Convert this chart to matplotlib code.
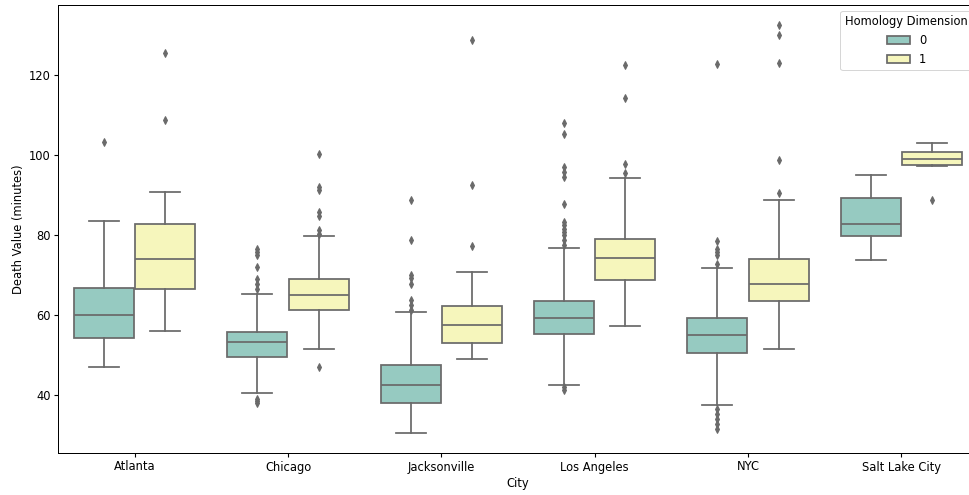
import matplotlib
matplotlib.use("Agg")
import matplotlib.pyplot as plt
from matplotlib.patches import Patch
import colorsys

cities = ["Atlanta", "Chicago", "Jacksonville", "Los Angeles", "NYC", "Salt Lake City"]
dims = ["0", "1"]

# per city: [dim0, dim1] statistics
whislo = [[47.0, 56.1], [40.5, 51.7], [30.6, 49.0], [42.6, 57.3], [37.6, 51.7], [73.8, 97.4]]
q1 =     [[54.4, 66.5], [49.6, 61.4], [38.2, 53.2], [55.3, 68.8], [50.6, 63.5], [79.8, 97.5]]
med =    [[60.0, 74.2], [53.3, 65.0], [42.7, 57.7], [59.4, 74.4], [55.0, 67.9], [82.9, 99.2]]
q3 =     [[66.8, 82.9], [55.8, 69.2], [47.5, 62.3], [63.7, 79.1], [59.3, 74.2], [89.4, 100.8]]
whishi = [[83.6, 90.8], [65.3, 79.8], [60.8, 70.8], [76.8, 94.4], [71.8, 88.8], [95.1, 103.2]]
fliers = [
    [[103.4], [108.8, 125.5]],
    [[76.7, 75.8, 75.0, 72.1, 69.2, 67.9, 66.7, 39.2, 38.6, 38.2],
     [100.4, 92.1, 91.3, 85.8, 84.8, 81.4, 80.4, 47.1]],
    [[88.8, 78.8, 70.2, 69.4, 67.9, 63.8, 62.5, 61.3],
     [128.8, 92.5, 77.3]],
    [[108.2, 105.4, 97.1, 95.8, 94.6, 87.9, 83.3, 82.5, 81.7, 80.8, 80.0, 78.8, 77.5, 42.1, 41.4],
     [122.7, 114.3, 97.9, 95.6]],
    [[122.9, 78.6, 76.7, 75.8, 75.0, 72.9, 36.7, 35.4, 34.2, 32.9, 31.6],
     [132.5, 130.0, 123.2, 98.8, 90.6]],
    [[], [88.9]],
]

base_colors = ["#8dd3c7", "#ffffb3"]


def desat(hexc, prop=0.75):
    r, g, b = matplotlib.colors.to_rgb(hexc)
    h, l, s = colorsys.rgb_to_hls(r, g, b)
    return colorsys.hls_to_rgb(h, l, s * prop)


colors = [desat(c) for c in base_colors]
lum = min(colorsys.rgb_to_hls(*c)[1] for c in colors) * 0.6
gray = (lum, lum, lum)

fs = 11.5
lw = 1.75

fig = plt.figure(figsize=(969 / 72, 495 / 72), dpi=72)
ax = fig.add_axes([58 / 969, 1 - 453 / 495, 920 / 969, 448 / 495])

offsets = [-0.2, 0.2]
width = 0.4 * 0.98
for j in range(2):
    stats = []
    for i in range(len(cities)):
        stats.append(dict(med=med[i][j], q1=q1[i][j], q3=q3[i][j],
                          whislo=whislo[i][j], whishi=whishi[i][j],
                          fliers=fliers[i][j]))
    pos = [i + offsets[j] for i in range(len(cities))]
    ax.bxp(stats, positions=pos, widths=width, patch_artist=True,
           manage_ticks=False,
           boxprops=dict(facecolor=colors[j], edgecolor=gray, linewidth=lw),
           medianprops=dict(color=gray, linewidth=lw),
           whiskerprops=dict(color=gray, linewidth=lw),
           capprops=dict(color=gray, linewidth=lw),
           flierprops=dict(marker="d", markerfacecolor=gray,
                           markeredgecolor=gray, markersize=5.8,
                           linestyle="none"))

ax.set_xticks(range(len(cities)))
ax.set_xticklabels(cities)
ax.set_xlim(-0.5, len(cities) - 0.5)
ax.set_ylim(25.6, 137.6)
ax.set_yticks([40, 60, 80, 100, 120])
ax.tick_params(labelsize=fs, width=1.1, length=4)
for s in ax.spines.values():
    s.set_linewidth(1.0)
ax.set_xlabel("City", fontsize=fs, labelpad=3)
ax.set_ylabel("Death Value (minutes)", fontsize=fs)

handles = [Patch(facecolor=colors[k], edgecolor=gray, linewidth=lw, label=dims[k]) for k in range(2)]
ax.legend(handles=handles, title="Homology Dimension", loc="upper right",
          fontsize=fs, title_fontsize=fs)

fig.savefig("out.png", dpi=72)
